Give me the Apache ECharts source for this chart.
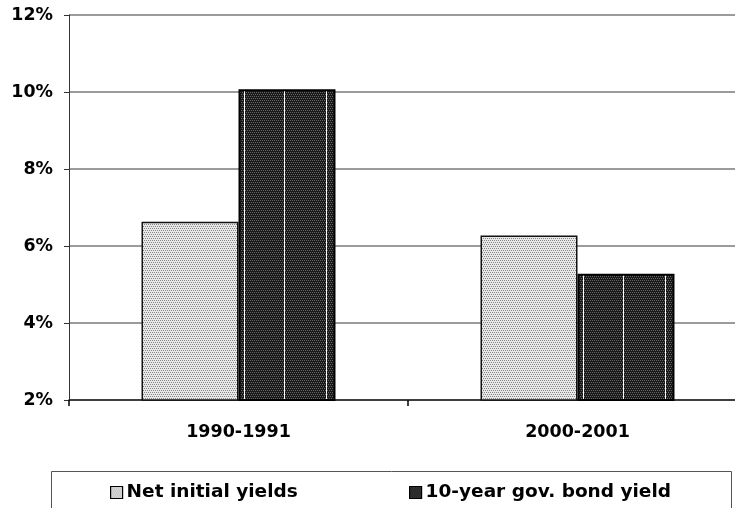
<!DOCTYPE html>
<html>
<head>
<meta charset="utf-8">
<script src="https://cdn.jsdelivr.net/npm/echarts@6/dist/echarts.min.js"></script>
<style>
  html, body { margin: 0; padding: 0; background: #fff; }
  #chart { width: 735px; height: 508px; }
</style>
</head>
<body>
<div id="chart"></div>
<script>
// Yield comparison: property net initial yields vs 10-year government bonds
const categories = ['1990-1991', '2000-2001'];
const seriesNames = ['Net initial yields', '10-year gov. bond yield'];
const netInitialYields = [6.63, 6.27];
const govBondYields = [10.07, 5.28];
const yMin = 2, yMax = 12, yStep = 2;

const FONT = 'DejaVu Sans';

// small dotted fill textures
function dotTexture(bg, dot) {
  const c = document.createElement('canvas');
  c.width = 4; c.height = 4;
  const g = c.getContext('2d');
  g.fillStyle = bg; g.fillRect(0, 0, 4, 4);
  g.fillStyle = dot;
  g.fillRect(0, 0, 1, 1); g.fillRect(2, 0, 1, 1);
  g.fillRect(1, 2, 1, 1); g.fillRect(3, 2, 1, 1);
  return c;
}
const lightFill = { image: dotTexture('#e8e8e8', '#858585'), repeat: 'repeat' };
const darkFill = { image: dotTexture('#1a1a1a', '#666666'), repeat: 'repeat' };

const BAR_FRAC = 0.2861;          // bar width as share of a category band
const stripePos = [0.052, 0.474, 0.907];

const chart = echarts.init(document.getElementById('chart'), null, { renderer: 'canvas' });

const legendText = { fontFamily: FONT, fontWeight: 'bold', fontSize: 18.5, color: '#000', padding: [0, 0, 0, -1] };

chart.setOption({
  animation: false,
  backgroundColor: '#fff',
  grid: { left: 69, top: 15, width: 678, bottom: 108, containLabel: false, outerBoundsMode: 'none' },
  graphic: [{
    type: 'rect', left: 51, top: 471, z: -1,
    shape: { width: 680, height: 60 },
    style: { fill: '#fff', stroke: '#555', lineWidth: 1 }
  }],
  legend: [
    {
      data: [seriesNames[0]], left: 110, top: 483, padding: 0, icon: 'rect',
      itemWidth: 12, itemHeight: 12, itemGap: 4,
      itemStyle: { borderColor: '#000', borderWidth: 1.2 },
      textStyle: legendText
    },
    {
      data: [seriesNames[1]], left: 409, top: 483, padding: 0, icon: 'rect',
      itemWidth: 12, itemHeight: 12, itemGap: 4,
      itemStyle: { borderColor: '#000', borderWidth: 1.2 },
      textStyle: legendText
    }
  ],
  xAxis: {
    type: 'category',
    data: categories,
    boundaryGap: true,
    axisLine: { lineStyle: { color: '#222', width: 1.5 } },
    axisTick: { show: true, length: 6, lineStyle: { color: '#000', width: 1.5 } },
    axisLabel: { margin: 23, fontFamily: FONT, fontWeight: 'bold', fontSize: 17.5, color: '#000' },
    splitLine: { show: false }
  },
  yAxis: {
    type: 'value',
    min: yMin, max: yMax, interval: yStep,
    axisLine: { show: true, lineStyle: { color: '#333', width: 1 } },
    axisTick: { show: true, length: 5, lineStyle: { color: '#333', width: 1 } },
    axisLabel: { margin: 16, formatter: '{value}%', fontFamily: FONT, fontWeight: 'bold', fontSize: 17.4, color: '#000' },
    splitLine: { show: true, lineStyle: { color: '#7a7a7a', width: 1.5 } }
  },
  series: [
    {
      name: seriesNames[0], type: 'bar', data: netInitialYields,
      barWidth: (BAR_FRAC * 100) + '%', barGap: '0%',
      itemStyle: { color: lightFill, borderColor: '#111', borderWidth: 1.5 }
    },
    {
      name: seriesNames[1], type: 'bar', data: govBondYields,
      barWidth: (BAR_FRAC * 100) + '%', barGap: '0%',
      itemStyle: { color: darkFill, borderColor: '#000', borderWidth: 2 }
    },
    {
      // white vertical stripes across the bond-yield bars
      type: 'custom', silent: true, z: 5,
      data: govBondYields.map((v, i) => [i, v]),
      encode: { x: 0, y: 1 },
      renderItem(params, api) {
        const top = api.coord([api.value(0), api.value(1)]);
        const base = api.coord([api.value(0), yMin]);
        const bw = api.size([1, 0])[0] * BAR_FRAC;
        return {
          type: 'group',
          children: stripePos.map(f => ({
            type: 'line',
            shape: { x1: Math.round(top[0] + bw * f) + 0.5, y1: top[1] + 2, x2: Math.round(top[0] + bw * f) + 0.5, y2: base[1] - 1 },
            style: { stroke: '#fff', lineWidth: 1 }
          }))
        };
      }
    }
  ]
});
</script>
</body>
</html>
